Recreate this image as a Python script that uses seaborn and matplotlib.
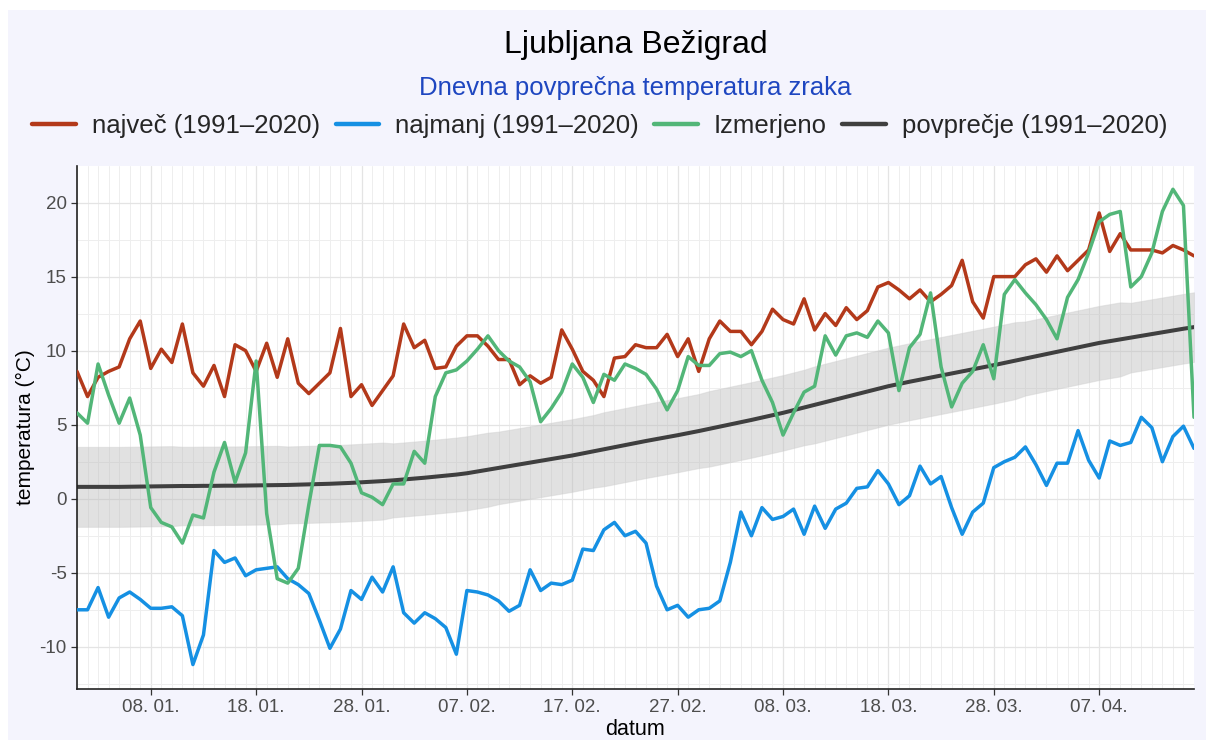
import pandas as pd
import seaborn as sns
import matplotlib.pyplot as plt
import matplotlib.dates as mdates
from matplotlib.patches import Rectangle
from matplotlib.lines import Line2D
from matplotlib.ticker import MultipleLocator

# podatki: 1. 1. 2024 - 16. 4. 2024, Ljubljana Bežigrad
datumi = pd.date_range("2024-01-01", "2024-04-16", freq="D")

najvec = [8.6, 6.9, 8.2, 8.6, 8.9, 10.8, 12.0, 8.8, 10.1, 9.2,
          11.8, 8.5, 7.6, 9.0, 6.9, 10.4, 10.0, 8.6, 10.5, 8.2,
          10.8, 7.8, 7.1, 7.8, 8.5, 11.5, 6.9, 7.7, 6.3, 7.3,
          8.3, 11.8, 10.2, 10.7, 8.8, 8.9, 10.3, 11.0, 11.0, 10.3,
          9.4, 9.4, 7.7, 8.3, 7.8, 8.2, 11.4, 10.1, 8.6, 8.0,
          6.9, 9.5, 9.6, 10.4, 10.2, 10.2, 11.1, 9.6, 10.8, 8.6,
          10.8, 12.0, 11.3, 11.3, 10.4, 11.3, 12.8, 12.1, 11.8, 13.5,
          11.4, 12.5, 11.7, 12.9, 12.1, 12.7, 14.3, 14.6, 14.1, 13.5,
          14.1, 13.3, 13.8, 14.4, 16.1, 13.3, 12.2, 15.0, 15.0, 15.0,
          15.8, 16.2, 15.3, 16.4, 15.4, 16.1, 16.8, 19.3, 16.7, 17.9,
          16.8, 16.8, 16.8, 16.6, 17.1, 16.8, 16.4]

najmanj = [-7.5, -7.5, -6.0, -8.0, -6.7, -6.3, -6.8, -7.4, -7.4, -7.3,
           -7.9, -11.2, -9.2, -3.5, -4.3, -4.0, -5.2, -4.8, -4.7, -4.6,
           -5.4, -5.8, -6.4, -8.2, -10.1, -8.8, -6.2, -6.8, -5.3, -6.3,
           -4.6, -7.7, -8.4, -7.7, -8.1, -8.7, -10.5, -6.2, -6.3, -6.5,
           -6.9, -7.6, -7.2, -4.8, -6.2, -5.7, -5.8, -5.5, -3.4, -3.5,
           -2.1, -1.6, -2.5, -2.2, -3.0, -5.9, -7.5, -7.2, -8.0, -7.5,
           -7.4, -6.9, -4.3, -0.9, -2.5, -0.6, -1.4, -1.2, -0.7, -2.4,
           -0.5, -2.0, -0.7, -0.3, 0.7, 0.8, 1.9, 1.0, -0.4, 0.2,
           2.2, 1.0, 1.5, -0.6, -2.4, -0.9, -0.3, 2.1, 2.5, 2.8,
           3.5, 2.3, 0.9, 2.4, 2.4, 4.6, 2.6, 1.4, 3.9, 3.6,
           3.8, 5.5, 4.8, 2.5, 4.2, 4.9, 3.4]

izmerjeno = [5.8, 5.1, 9.1, 7.0, 5.1, 6.8, 4.3, -0.6, -1.6, -1.9,
             -3.0, -1.1, -1.3, 1.8, 3.8, 1.1, 3.1, 9.3, -1.0, -5.4,
             -5.7, -4.7, -0.4, 3.6, 3.6, 3.5, 2.4, 0.4, 0.1, -0.4,
             1.0, 1.0, 3.2, 2.4, 6.9, 8.5, 8.7, 9.3, 10.1, 11.0,
             10.0, 9.3, 8.9, 7.9, 5.2, 6.1, 7.2, 9.1, 8.2, 6.5,
             8.4, 8.0, 9.1, 8.8, 8.4, 7.4, 6.0, 7.3, 9.6, 9.0,
             9.0, 9.8, 9.9, 9.6, 10.0, 8.0, 6.5, 4.3, 5.8, 7.2,
             7.6, 11.0, 9.7, 11.0, 11.2, 10.9, 12.0, 11.2, 7.3, 10.2,
             11.1, 13.9, 8.9, 6.2, 7.8, 8.6, 10.4, 8.1, 13.8, 14.8,
             13.9, 13.1, 12.1, 10.8, 13.6, 14.8, 16.6, 18.7, 19.2, 19.4,
             14.3, 15.0, 16.6, 19.4, 20.9, 19.8, 5.5]

povprecje = [0.80, 0.80, 0.80, 0.80, 0.80, 0.81, 0.82, 0.83, 0.84, 0.85,
             0.86, 0.86, 0.87, 0.87, 0.88, 0.88, 0.89, 0.90, 0.91, 0.92,
             0.93, 0.95, 0.97, 0.99, 1.01, 1.04, 1.07, 1.11, 1.15, 1.19,
             1.24, 1.30, 1.36, 1.42, 1.49, 1.56, 1.63, 1.72, 1.84, 1.96,
             2.08, 2.20, 2.32, 2.44, 2.56, 2.68, 2.80, 2.92, 3.06, 3.20,
             3.34, 3.48, 3.62, 3.76, 3.90, 4.03, 4.16, 4.29, 4.43, 4.57,
             4.72, 4.87, 5.02, 5.17, 5.32, 5.48, 5.64, 5.80, 5.98, 6.16,
             6.34, 6.52, 6.70, 6.88, 7.06, 7.24, 7.42, 7.60, 7.75, 7.90,
             8.04, 8.18, 8.32, 8.46, 8.60, 8.74, 8.88, 9.02, 9.17, 9.32,
             9.47, 9.62, 9.77, 9.92, 10.07, 10.22, 10.37, 10.52, 10.64, 10.76,
             10.88, 11.00, 11.12, 11.24, 11.36, 11.48, 11.59]

# standardni odklon (siv pas okoli povprečja)
odklon = ([2.70] * 10 + [2.65] * 10 + [2.60] * 10 + [2.50] * 10 + [2.45] * 10
          + [2.50] * 10 + [2.55] * 10 + [2.60] * 10 + [2.60] * 10 + [2.50] * 10
          + [2.35] * 7)

serije = ["največ (1991–2020)", "najmanj (1991–2020)", "Izmerjeno", "povprečje (1991–2020)"]
barve = {"največ (1991–2020)": "#B3391A",
         "najmanj (1991–2020)": "#1590E3",
         "Izmerjeno": "#52B678",
         "povprečje (1991–2020)": "#3F3F3F"}

df = pd.DataFrame({"datum": datumi, "najvec": najvec, "najmanj": najmanj,
                   "izmerjeno": izmerjeno, "povprecje": povprecje, "odklon": odklon})
df["zgoraj"] = df["povprecje"] + df["odklon"]
df["spodaj"] = df["povprecje"] - df["odklon"]

dolgi = pd.DataFrame({
    "datum": list(datumi) * 3,
    "temperatura": najvec + najmanj + izmerjeno,
    "serija": [serije[0]] * len(datumi) + [serije[1]] * len(datumi) + [serije[2]] * len(datumi),
})

sns.set_theme(style="white")
plt.rcParams['font.family'] = ['Liberation Sans', 'DejaVu Sans']
plt.rcParams['axes.unicode_minus'] = False

ozadje = "#F4F4FD"
fig = plt.figure(figsize=(12.06, 7.4), dpi=100, facecolor="white")
fig.patches.append(Rectangle((8 / 1206, 0), 1, 1 - 10 / 740, transform=fig.transFigure,
                             facecolor=ozadje, edgecolor="none", zorder=-10))
ax = fig.add_axes([77 / 1206, 1 - 689 / 740, (1194 - 77) / 1206, (689 - 166) / 740])
ax.set_facecolor("white")

# siv pas in povprečje
ax.fill_between(df["datum"], df["spodaj"], df["zgoraj"], color="#BDBDBD", alpha=0.45,
                edgecolor="#D0D0D0", linewidth=0.8, zorder=1)
sns.lineplot(data=df, x="datum", y="povprecje", color=barve[serije[3]], linewidth=2.9,
             ax=ax, zorder=2, legend=False)

# največ, najmanj, izmerjeno
sns.lineplot(data=dolgi, x="datum", y="temperatura", hue="serija", hue_order=serije[:3],
             palette=barve, linewidth=2.5, ax=ax, zorder=3, legend=False)

ax.set_xlim(datumi[0], datumi[-1])
ax.set_ylim(-12.85, 22.47)

ax.set_xticks(pd.date_range("2024-01-08", "2024-04-07", freq="10D"))
ax.xaxis.set_major_formatter(mdates.DateFormatter("%d. %m."))
ax.xaxis.set_minor_locator(mdates.DayLocator())
ax.yaxis.set_major_locator(MultipleLocator(5))
ax.yaxis.set_minor_locator(MultipleLocator(2.5))

ax.grid(which="major", color="#E4E4E4", linewidth=0.9)
ax.grid(which="minor", color="#EEEEEE", linewidth=0.7)
ax.set_axisbelow(True)

for s in ["top", "right"]:
    ax.spines[s].set_visible(False)
for s in ["left", "bottom"]:
    ax.spines[s].set_color("#222222")
    ax.spines[s].set_linewidth(1.2)

ax.tick_params(axis="both", which="major", length=4, width=0.9, color="#333333",
               labelcolor="#4D4D4D", labelsize=13.5, bottom=True, left=True)
ax.tick_params(axis="both", which="minor", length=0)

ax.set_xlabel("datum", fontsize=15.5, color="black", labelpad=2)
ax.set_ylabel("temperatura (°C)", fontsize=15, color="black", labelpad=3)

# naslov je poravnan na sredino risalne ploskve
sredina = (77 + 1194) / 2 / 1206
fig.text(sredina, 1 - 45 / 740, "Ljubljana Bežigrad", ha="center", va="center",
         fontsize=23, color="black")
fig.text(sredina, 1 - 88 / 740, "Dnevna povprečna temperatura zraka", ha="center", va="center",
         fontsize=18.5, color="#1E46C0")

rocaji = [Line2D([0], [0], color=barve[s], linewidth=3.2) for s in serije]
fig.legend(rocaji, serije, loc="center", bbox_to_anchor=(0.4975, 1 - 126 / 740), ncol=4,
           frameon=False, fontsize=18.5, handlelength=1.7, handletextpad=0.62,
           columnspacing=0.6)

plt.savefig("out.png", dpi=100, facecolor=fig.get_facecolor())
